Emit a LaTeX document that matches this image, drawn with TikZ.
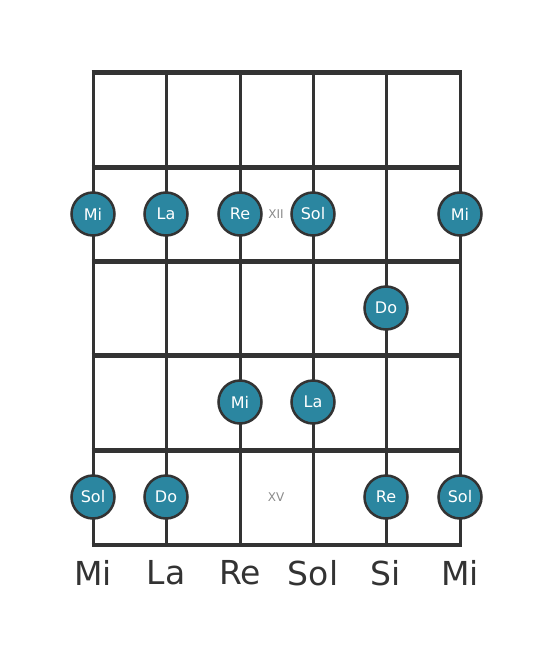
\documentclass[tikz,border=0pt]{standalone}
\usepackage{fontspec}
\setmainfont{DejaVu Sans}
\definecolor{notefill}{HTML}{2B86A0}
\definecolor{ink}{HTML}{333333}
\definecolor{fretgray}{HTML}{8A8A8A}
\begin{document}
\begin{tikzpicture}[
    x=1pt, y=-1pt,
    fretline/.style={draw=ink, line width=5pt},
    nutline/.style={draw=ink, line width=4pt},
    gstring/.style={draw=ink, line width=3pt},
    note/.style={circle, draw=ink, line width=2.5pt, fill=notefill, minimum size=43pt, inner sep=0pt, text=white, font=\fontsize{16}{16}\selectfont},
    fretno/.style={text=fretgray, font=\fontsize{12}{12}\selectfont},
    tuning/.style={text=ink, font=\fontsize{33}{33}\selectfont},
]
\useasboundingbox (0,0) rectangle (553,656);

% --- String ends ---
\coordinate (t1) at (93, 72);
\coordinate (t2) at (166, 72);
\coordinate (t3) at (240, 72);
\coordinate (t4) at (313, 72);
\coordinate (t5) at (386, 72);
\coordinate (t6) at (460, 72);
\coordinate (b1) at (93, 545);
\coordinate (b2) at (166, 545);
\coordinate (b3) at (240, 545);
\coordinate (b4) at (313, 545);
\coordinate (b5) at (386, 545);
\coordinate (b6) at (460, 545);

% --- Strings ---
\draw[gstring] (t1) -- (b1);
\draw[gstring] (t2) -- (b2);
\draw[gstring] (t3) -- (b3);
\draw[gstring] (t4) -- (b4);
\draw[gstring] (t5) -- (b5);
\draw[gstring] (t6) -- (b6);

% --- Frets ---
\draw[fretline] (91.5, 72) -- (461.5, 72);
\draw[fretline] (91.5, 167) -- (461.5, 167);
\draw[fretline] (91.5, 261) -- (461.5, 261);
\draw[fretline] (91.5, 355) -- (461.5, 355);
\draw[fretline] (91.5, 450) -- (461.5, 450);
\draw[nutline] (91.5, 545) -- (461.5, 545);

% --- Fret numbers ---
\node[fretno] (f12) at (276, 214) {XII};
\node[fretno] (f15) at (276, 497) {XV};

% --- Row 1 ---
\node[note] (n11) at (93, 214) {Mi};
\node[note] (n12) at (166, 214) {La};
\node[note] (n13) at (240, 214) {Re};
\node[note] (n14) at (313, 214) {Sol};
\node[note] (n16) at (460, 214) {Mi};

% --- Row 2 ---
\node[note] (n25) at (386, 308) {Do};

% --- Row 3 ---
\node[note] (n33) at (240, 402) {Mi};
\node[note] (n34) at (313, 402) {La};

% --- Row 4 ---
\node[note] (n41) at (93, 497) {Sol};
\node[note] (n42) at (166, 497) {Do};
\node[note] (n45) at (386, 497) {Re};
\node[note] (n46) at (460, 497) {Sol};

% --- Open strings ---
\node[tuning] (o1) at (93, 573) {Mi};
\node[tuning] (o2) at (166, 573) {La};
\node[tuning] (o3) at (240, 573) {Re};
\node[tuning] (o4) at (313, 573) {Sol};
\node[tuning] (o5) at (386, 573) {Si};
\node[tuning] (o6) at (460, 573) {Mi};

\end{tikzpicture}
\end{document}
